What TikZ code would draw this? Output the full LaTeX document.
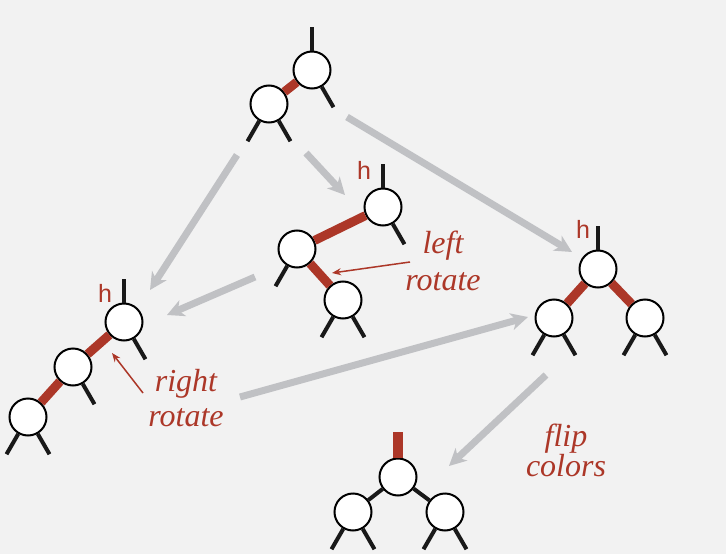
\documentclass[tikz,border=0pt]{standalone}
\usepackage{fontspec}
\usepackage{tikz}
\usetikzlibrary{arrows.meta}
\newfontfamily\notefont{Liberation Serif}
\newfontfamily\hfont{Liberation Sans}
\definecolor{rbred}{HTML}{AC3728}
\definecolor{movegray}{HTML}{C0C1C4}
\definecolor{bggray}{HTML}{F2F2F2}

\begin{document}
\begin{tikzpicture}[x=1pt, y=-1pt,
  nd/.style = {draw, circle, fill=white, line width=2pt, minimum size=37pt, inner sep=0pt},
  stub/.style = {line width=4pt, black!90},
  redlink/.style = {line width=9pt, rbred},
  blklink/.style = {line width=4pt, black!90},
  move/.style = {line width=7pt, movegray, -{Stealth[length=17pt, width=17pt, inset=5pt]}},
  note/.style = {line width=1.5pt, rbred, -{Stealth[length=9pt, width=7pt]}},
  lbl/.style = {rbred, font=\notefont\itshape\fontsize{32}{36}\selectfont, align=center},
  hlab/.style = {rbred, font=\hfont\fontsize{25}{25}\selectfont, anchor=base, inner sep=0pt}]
\fill[bggray] (0,0) rectangle (726,554);
\useasboundingbox (0,0) rectangle (726,554);

% start: two nodes, red link leaning right
\node[nd] (a1) at (312,70) {};
\node[nd] (a2) at (269,104) {};
% after left rotate
\node[nd] (b1) at (383,207) {};
\node[nd] (b2) at (297,249) {};
\node[nd] (b3) at (343,300) {};
\node[hlab] (hb) at (364,179) {h};
% after right rotate
\node[nd] (c1) at (124,322) {};
\node[nd] (c2) at (73,367) {};
\node[nd] (c3) at (28,417) {};
\node[hlab] (hc) at (105,302) {h};
% both children red
\node[nd] (d1) at (598,269) {};
\node[nd] (d2) at (554,318) {};
\node[nd] (d3) at (645,318) {};
\node[hlab] (hd) at (583,238) {h};
% after flip colors
\node[nd] (e1) at (398,477) {};
\node[nd] (e2) at (353,512) {};
\node[nd] (e3) at (445,512) {};

% links
\draw[redlink] (a1) -- (a2);
\draw[redlink] (b1) -- (b2);
\draw[redlink] (b2) -- (b3);
\draw[redlink] (c1) -- (c2);
\draw[redlink] (c2) -- (c3);
\draw[redlink] (d1) -- (d2);
\draw[redlink] (d1) -- (d3);
\draw[blklink] (e1) -- (e2);
\draw[blklink] (e1) -- (e3);

% stubs
\foreach \n/\a in {a1/90, a1/300, a2/240, a2/300, b1/90, b1/300, b2/240,
    b3/240, b3/300, c1/90, c1/300, c2/300, c3/240, c3/300,
    d1/90, d2/240, d2/300, d3/240, d3/300, e2/240, e2/300, e3/240, e3/300} {
  \path (\n) ++(\a:43pt) coordinate (\n-\a);
  \draw[stub] (\n) -- (\n-\a);
}
\path (e1) ++(90:45pt) coordinate (e1-90);
\draw[line width=10pt, rbred] (e1) -- (e1-90);

% labels
\node[lbl, font=\notefont\itshape\fontsize{32}{37}\selectfont] (lr) at (443,261) {left\\rotate};
\node[lbl, font=\notefont\itshape\fontsize{32}{35}\selectfont] (rr) at (186,398) {right\\rotate};
\node[lbl, font=\notefont\itshape\fontsize{32}{29}\selectfont] (fc) at (566,450) {flip\\colors};
\coordinate (lr-from) at (410,262);
\coordinate (lr-to) at (332,273);
\coordinate (rr-from) at (143,393);
\coordinate (rr-to) at (112,353);
\draw[note] (lr-from) -- (lr-to);
\draw[note] (rr-from) -- (rr-to);

% moves between trees
\coordinate (m1s) at (237,155); \coordinate (m1e) at (150,290);
\coordinate (m2s) at (306,153); \coordinate (m2e) at (345,195);
\coordinate (m3s) at (347,117); \coordinate (m3e) at (572,252);
\coordinate (m4s) at (255,277); \coordinate (m4e) at (167,315);
\coordinate (m5s) at (240,397); \coordinate (m5e) at (528,317);
\coordinate (m6s) at (546,375); \coordinate (m6e) at (449,466);
\foreach \m in {1,...,6}
  \draw[move] (m\m s) -- (m\m e);
\end{tikzpicture}
\end{document}
